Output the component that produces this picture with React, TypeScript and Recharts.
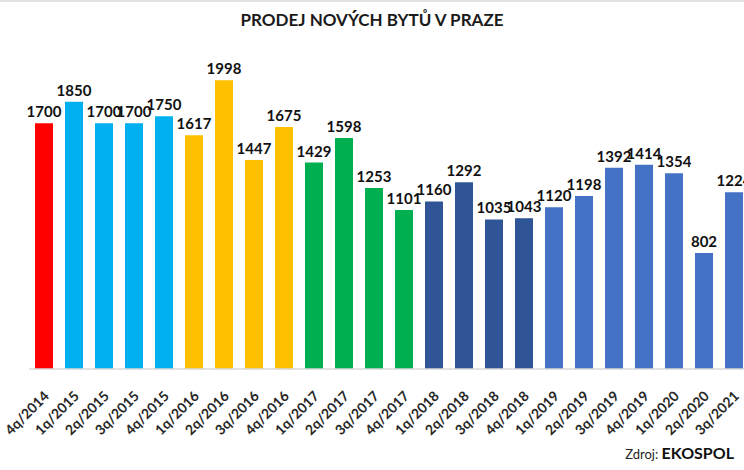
import { Bar, BarChart, Cell, LabelList, XAxis, YAxis } from "recharts";

const quarters = [
  "4q/2014",
  "1q/2015", "2q/2015", "3q/2015", "4q/2015",
  "1q/2016", "2q/2016", "3q/2016", "4q/2016",
  "1q/2017", "2q/2017", "3q/2017", "4q/2017",
  "1q/2018", "2q/2018", "3q/2018", "4q/2018",
  "1q/2019", "2q/2019", "3q/2019", "4q/2019",
  "1q/2020", "2q/2020", "3q/2021",
];

const sales = [
  1700,
  1850, 1700, 1700, 1750,
  1617, 1998, 1447, 1675,
  1429, 1598, 1253, 1101,
  1160, 1292, 1035, 1043,
  1120, 1198, 1392, 1414,
  1354, 802, 1224,
];

const yearColors: Record<string, string> = {
  "2014": "#FF0000",
  "2015": "#00B0F0",
  "2016": "#FFC000",
  "2017": "#00B050",
  "2018": "#2F5597",
  "2019": "#4472C4",
  "2020": "#4472C4",
  "2021": "#4472C4",
};

const data = quarters.map((q, i) => ({ label: q, value: sales[i] }));

const FONT = "Lato, 'Open Sans', sans-serif";

function QuarterTick(props: any) {
  const { x, y, payload } = props;
  const ax = x + 6;
  const ay = y + 20;
  return (
    <text
      x={ax}
      y={ay}
      textAnchor="end"
      transform={`rotate(-45 ${ax} ${ay})`}
      fontFamily={FONT}
      fontWeight={700}
      fontSize={14}
      fill="#262626"
    >
      {payload.value}
    </text>
  );
}

export default function App() {
  return (
    <div
      style={{
        position: "fixed",
        left: 0,
        top: 0,
        width: 744,
        height: 470,
        overflow: "hidden",
        background: "#fff",
        borderTop: "2px solid #e3e3e3",
        boxSizing: "border-box",
      }}
    >
      <div
        style={{
          position: "absolute",
          top: 7,
          left: 0,
          width: 744,
          textAlign: "center",
          fontFamily: FONT,
          fontWeight: 700,
          fontSize: 17,
          color: "#1a1a1a",
        }}
      >
        PRODEJ NOVÝCH BYTŮ V PRAZE
      </div>
      <div style={{ position: "absolute", top: -2, left: 0 }}>
        <BarChart
          width={760}
          height={472}
          data={data}
          margin={{ top: 80, right: 11, left: 29, bottom: 43 }}
          barCategoryGap="20%"
        >
          <YAxis hide domain={[0, 2000]} allowDataOverflow={false} />
          <XAxis
            dataKey="label"
            interval={0}
            height={60}
            tickLine={false}
            axisLine={{ stroke: "#d9d9d9", strokeWidth: 1.5 }}
            tick={<QuarterTick />}
          />
          <Bar dataKey="value" isAnimationActive={false}>
            {data.map((d) => (
              <Cell key={d.label} fill={yearColors[d.label.split("/")[1]]} />
            ))}
            <LabelList
              dataKey="value"
              position="top"
              offset={6}
              fill="#111"
              fontFamily={FONT}
              fontWeight={700}
              fontSize={15}
            />
          </Bar>
        </BarChart>
      </div>
      <div
        style={{
          position: "absolute",
          right: 10,
          top: 441,
          fontFamily: FONT,
          fontSize: 13,
          color: "#262626",
        }}
      >
        Zdroj: <span style={{ fontWeight: 700, fontSize: 16, color: "#111" }}>EKOSPOL</span>
      </div>
    </div>
  );
}
